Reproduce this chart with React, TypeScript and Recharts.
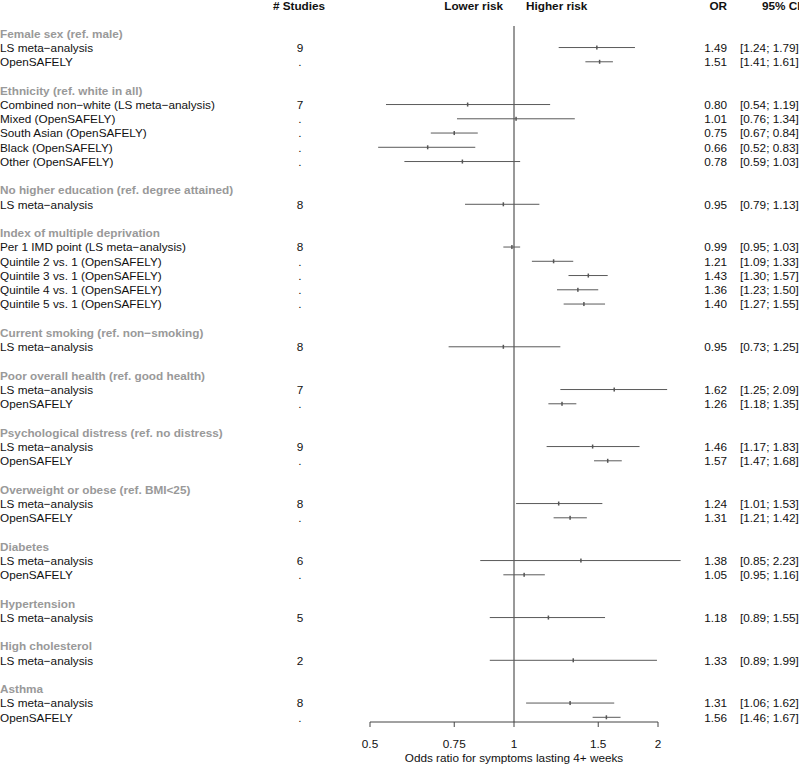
import React from 'react';
import { ScatterChart, Scatter, XAxis, YAxis, ReferenceLine } from 'recharts';

const labels: string[] = [
  'Female sex (ref. male)', 'LS meta−analysis', 'OpenSAFELY', '',
  'Ethnicity (ref. white in all)', 'Combined non−white (LS meta−analysis)', 'Mixed (OpenSAFELY)', 'South Asian (OpenSAFELY)', 'Black (OpenSAFELY)', 'Other (OpenSAFELY)', '',
  'No higher education (ref. degree attained)', 'LS meta−analysis', '',
  'Index of multiple deprivation', 'Per 1 IMD point (LS meta−analysis)', 'Quintile 2 vs. 1 (OpenSAFELY)', 'Quintile 3 vs. 1 (OpenSAFELY)', 'Quintile 4 vs. 1 (OpenSAFELY)', 'Quintile 5 vs. 1 (OpenSAFELY)', '',
  'Current smoking (ref. non−smoking)', 'LS meta−analysis', '',
  'Poor overall health (ref. good health)', 'LS meta−analysis', 'OpenSAFELY', '',
  'Psychological distress (ref. no distress)', 'LS meta−analysis', 'OpenSAFELY', '',
  'Overweight or obese (ref. BMI<25)', 'LS meta−analysis', 'OpenSAFELY', '',
  'Diabetes', 'LS meta−analysis', 'OpenSAFELY', '',
  'Hypertension', 'LS meta−analysis', '',
  'High cholesterol', 'LS meta−analysis', '',
  'Asthma', 'LS meta−analysis', 'OpenSAFELY',
];

const studies: string[] = [
  '', '9', '.', '',
  '', '7', '.', '.', '.', '.', '',
  '', '8', '',
  '', '8', '.', '.', '.', '.', '',
  '', '8', '',
  '', '7', '.', '',
  '', '9', '.', '',
  '', '8', '.', '',
  '', '6', '.', '',
  '', '5', '',
  '', '2', '',
  '', '8', '.',
];

const oddsRatio: (number | null)[] = [
  null, 1.49, 1.51, null,
  null, 0.80, 1.01, 0.75, 0.66, 0.78, null,
  null, 0.95, null,
  null, 0.99, 1.21, 1.43, 1.36, 1.40, null,
  null, 0.95, null,
  null, 1.62, 1.26, null,
  null, 1.46, 1.57, null,
  null, 1.24, 1.31, null,
  null, 1.38, 1.05, null,
  null, 1.18, null,
  null, 1.33, null,
  null, 1.31, 1.56,
];

const ciLower: (number | null)[] = [
  null, 1.24, 1.41, null,
  null, 0.54, 0.76, 0.67, 0.52, 0.59, null,
  null, 0.79, null,
  null, 0.95, 1.09, 1.30, 1.23, 1.27, null,
  null, 0.73, null,
  null, 1.25, 1.18, null,
  null, 1.17, 1.47, null,
  null, 1.01, 1.21, null,
  null, 0.85, 0.95, null,
  null, 0.89, null,
  null, 0.89, null,
  null, 1.06, 1.46,
];

const ciUpper: (number | null)[] = [
  null, 1.79, 1.61, null,
  null, 1.19, 1.34, 0.84, 0.83, 1.03, null,
  null, 1.13, null,
  null, 1.03, 1.33, 1.57, 1.50, 1.55, null,
  null, 1.25, null,
  null, 2.09, 1.35, null,
  null, 1.83, 1.68, null,
  null, 1.53, 1.42, null,
  null, 2.23, 1.16, null,
  null, 1.55, null,
  null, 1.99, null,
  null, 1.62, 1.67,
];

const xTicks = [0.5, 0.75, 1, 1.5, 2];
const headerCols = { studies: '# Studies', lower: 'Lower risk', higher: 'Higher risk', or: 'OR', ci: '95% CI' };
const xTitle = 'Odds ratio for symptoms lasting 4+ weeks';

const rowNums = labels.map((_, i) => i + 1);
const points = rowNums
  .filter((r) => oddsRatio[r - 1] !== null)
  .map((r) => ({ row: r, or: oddsRatio[r - 1] as number, lo: ciLower[r - 1] as number, hi: ciUpper[r - 1] as number }));

const FONT = '"Liberation Sans", Arial, Helvetica, sans-serif';
const FS = 11.75;

const RowTick = (props: any) => {
  const { y, payload } = props;
  const r = payload.value as number;
  const i = r - 1;
  const lab = labels[i];
  const est = oddsRatio[i];
  const isHeader = lab !== '' && est === null;
  return (
    <g fontFamily={FONT} fontSize={FS}>
      {r === 1 && (
        <g fontWeight="bold" fill="#111">
          <text x={299} y={y - 28} dy="0.36em" textAnchor="middle">{headerCols.studies}</text>
          <text x={503} y={y - 28} dy="0.36em" textAnchor="end">{headerCols.lower}</text>
          <text x={526} y={y - 28} dy="0.36em" textAnchor="start">{headerCols.higher}</text>
          <text x={727} y={y - 28} dy="0.36em" textAnchor="end">{headerCols.or}</text>
          <text x={762} y={y - 28} dy="0.36em" textAnchor="start">{headerCols.ci}</text>
        </g>
      )}
      {lab !== '' && (
        <text x={0} y={y} dy="0.36em" textAnchor="start" fill={isHeader ? '#999' : '#111'} fontWeight={isHeader ? 'bold' : 'normal'}>
          {lab}
        </text>
      )}
      {studies[i] !== '' && (
        <text x={300} y={y} dy="0.36em" textAnchor="middle" fill="#111">{studies[i]}</text>
      )}
      {est !== null && (
        <text x={727} y={y} dy="0.36em" textAnchor="end" fill="#111">{est.toFixed(2)}</text>
      )}
      {est !== null && (
        <text x={740} y={y} dy="0.36em" textAnchor="start" fill="#111">
          {`[${(ciLower[i] as number).toFixed(2)}; ${(ciUpper[i] as number).toFixed(2)}]`}
        </text>
      )}
    </g>
  );
};

const Marker = (props: any) => {
  const { cx, cy } = props;
  return <rect x={cx - 0.75} y={cy - 2} width={1.5} height={4} fill="#555" />;
};

export default function App() {
  return (
    <div style={{ position: 'absolute', left: 0, top: 0, width: 799, height: 764, background: '#fff' }}>
      <ScatterChart width={799} height={764} margin={{ top: 26, right: 141, bottom: 0, left: 0 }}>
        <XAxis
          type="number"
          dataKey="or"
          scale="log"
          domain={[0.5, 2]}
          allowDataOverflow
          ticks={xTicks}
          interval={0}
          height={42}
          tickSize={5}
          tickMargin={13}
          axisLine={{ stroke: '#444' }}
          tickLine={{ stroke: '#444' }}
          tick={{ fill: '#111', fontSize: FS, fontFamily: FONT }}
          label={{ value: xTitle, position: 'insideBottom', offset: 2, fill: '#111', fontSize: FS, fontFamily: FONT }}
        />
        <YAxis
          type="number"
          dataKey="row"
          domain={[0.488, 49.33]}
          allowDataOverflow
          reversed
          ticks={rowNums}
          interval={0}
          width={370}
          axisLine={false}
          tickLine={false}
          tick={<RowTick />}
        />
        <ReferenceLine x={1} stroke="#333" strokeWidth={1} />
        {points.map((p) => (
          <ReferenceLine
            key={p.row}
            ifOverflow="visible"
            stroke="#5a5a5a"
            strokeWidth={1}
            segment={[{ x: p.lo, y: p.row }, { x: p.hi, y: p.row }]}
          />
        ))}
        <Scatter data={points} dataKey="or" shape={<Marker />} isAnimationActive={false} />
      </ScatterChart>
    </div>
  );
}
